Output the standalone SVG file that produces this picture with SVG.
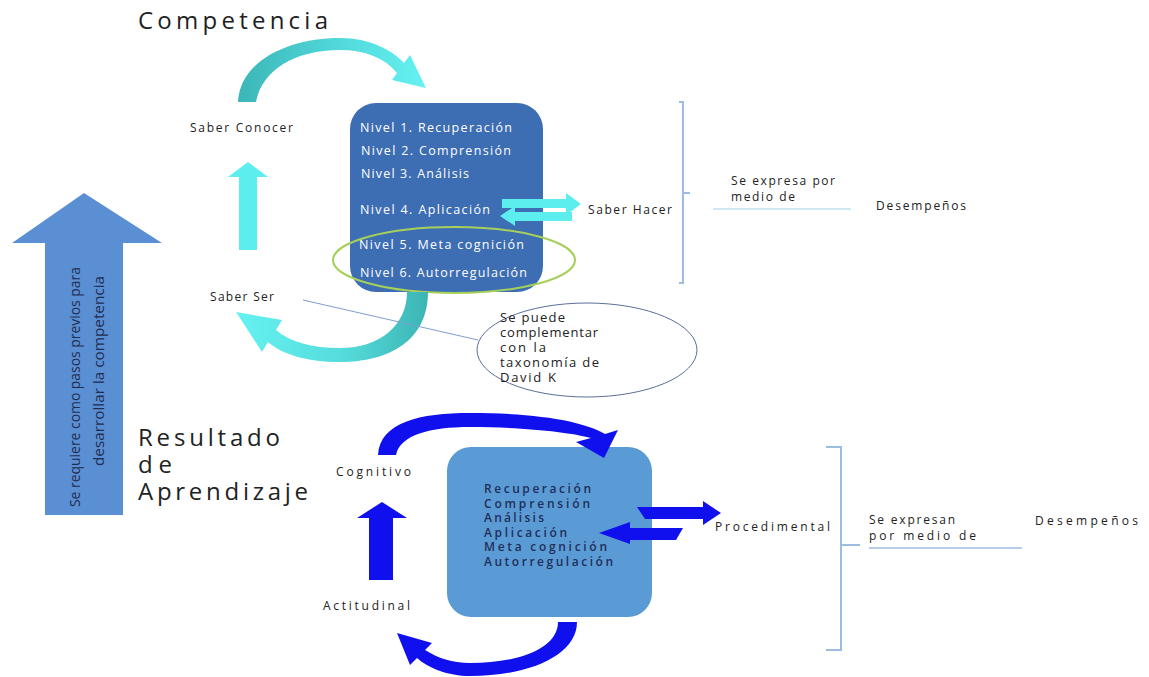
<svg xmlns="http://www.w3.org/2000/svg" width="1149" height="677" viewBox="0 0 1149 677">
<defs>
<linearGradient id="gTop" x1="0" y1="0" x2="1" y2="0">
<stop offset="0" stop-color="#3cb6b8"/><stop offset="0.5" stop-color="#4fd6d8"/><stop offset="1" stop-color="#66f2f2"/>
</linearGradient>
<linearGradient id="gBot" x1="0" y1="0" x2="1" y2="0">
<stop offset="0" stop-color="#66f2f2"/><stop offset="0.55" stop-color="#55dcdc"/><stop offset="1" stop-color="#3cb4b4"/>
</linearGradient>
<style>
text{font-family:"Open Sans","Liberation Sans",sans-serif;}
.w{fill:#ffffff;font-size:12.5px;}
.k{fill:#222222;font-size:12px;}
.n{fill:#1f2f5a;font-size:12px;font-weight:600;}
.e{fill:#222222;font-size:13px;}
.big{fill:#222222;font-size:24px;}
.bk{fill:none;stroke:#9dbde0;stroke-width:2;}
.cy{fill:#5ceeee;}
.bl{fill:#1010ee;}
</style>
</defs>
<rect width="1149" height="677" fill="#ffffff"/>

<g id="titulo-competencia"><text class="big" x="138" y="29" textLength="190" lengthAdjust="spacing">Competencia</text></g>

<g id="flecha-grande">
<path d="M45,515 L45,243 L12,243 L84,193 L162,243 L123,243 L123,515 Z" fill="#5b8fd3"/>
<text transform="translate(80,507) rotate(-90)" font-family="DejaVu Sans Condensed, Liberation Sans, sans-serif" font-size="14" fill="#1f2d50" textLength="240" lengthAdjust="spacingAndGlyphs">Se requiere como pasos previos para</text>
<text transform="translate(104,466) rotate(-90)" font-family="DejaVu Sans Condensed, Liberation Sans, sans-serif" font-size="14" fill="#1f2d50" textLength="190" lengthAdjust="spacingAndGlyphs">desarrollar la competencia</text>
</g>

<g id="caja-niveles">
<rect x="350" y="103" width="193" height="189" rx="26" fill="#3d6db3"/>
<text class="w" x="360" y="132" textLength="152" lengthAdjust="spacing">Nivel 1. Recuperación</text>
<text class="w" x="361" y="155" textLength="150" lengthAdjust="spacing">Nivel 2. Comprensión</text>
<text class="w" x="361" y="178" textLength="108" lengthAdjust="spacing">Nivel 3. Análisis</text>
<text class="w" x="360" y="214" textLength="130" lengthAdjust="spacing">Nivel  4. Aplicación</text>
<text class="w" x="359" y="249" textLength="165" lengthAdjust="spacing">Nivel  5. Meta cognición</text>
<text class="w" x="360" y="277" textLength="167" lengthAdjust="spacing">Nivel  6. Autorregulación</text>
</g>
<g id="elipse-verde"><ellipse cx="454" cy="260" rx="121" ry="33" fill="none" stroke="#a6d05a" stroke-width="2"/></g>

<g id="caja-resultados">
<rect x="447" y="447" width="205" height="170" rx="24" fill="#5b9bd5"/>
<text class="n" x="484" y="493" textLength="107" lengthAdjust="spacing">Recuperación</text>
<text class="n" x="484" y="507.5" textLength="106" lengthAdjust="spacing">Comprensión</text>
<text class="n" x="484" y="522" textLength="60" lengthAdjust="spacing">Análisis</text>
<text class="n" x="484" y="536.5" textLength="83" lengthAdjust="spacing">Aplicación</text>
<text class="n" x="484" y="551" textLength="123" lengthAdjust="spacing">Meta cognición</text>
<text class="n" x="484" y="565.5" textLength="129" lengthAdjust="spacing">Autorregulación</text>
</g>

<g id="connectors">
<!-- top cyan arc -->
<path d="M238,102 C240,60 290,38 340,38 C370,38 392,50 404,63 L410,55 L426,88 L392,80 L397,73 C385,58 365,50 340,50 C295,50 262,70 256,102 Z" fill="url(#gTop)"/>
<!-- cyan up arrow -->
<path d="M239,250 L239,177 L228,177 L248,162 L268,177 L257,177 L257,250 Z" class="cy"/>
<!-- bottom cyan arc -->
<path d="M428,292 C428,340 390,362 340,362 C305,362 282,354 268,342 L262,352 L236,312 L282,320 L276,330 C290,342 312,348 340,348 C380,348 407,325 407,292 Z" fill="url(#gBot)"/>
<!-- cyan double arrows -->
<path d="M502,199 L566,199 L566,193 L581,204 L566,215 L566,208 L502,208 Z" class="cy"/>
<path d="M572,212 L515,212 L515,206 L500,216 L515,226 L515,221 L572,221 Z" class="cy"/>
<!-- line to ellipse -->
<line x1="303" y1="300" x2="478" y2="340" stroke="#7f9fcf" stroke-width="1"/>
<!-- top bracket -->
<path class="bk" d="M679,102 L683,102 L683,283 L679,283 M683,193 L690,193"/>
<line x1="713" y1="209" x2="851" y2="209" stroke="#bfe0ee" stroke-width="1.5"/>
<!-- blue top arc -->
<path d="M378,455 C380,422 420,413 470,413 C540,413 585,422 605,434 L618,430 L604,458 L576,442 L591,438 C570,432 520,427 470,427 C430,427 400,435 396,455 Z" class="bl"/>
<!-- blue up arrow -->
<path d="M369,580 L369,518 L357,518 L382,502 L407,518 L393,518 L393,580 Z" class="bl"/>
<!-- blue bottom arc -->
<path d="M577,622 C577,655 530,676 470,676 C448,676 428,668 417,658 L410,665 L397,633 L432,643 L425,650 C438,658 452,663 470,663 C520,663 558,648 558,622 Z" class="bl"/>
<!-- blue double arrows -->
<path d="M637,507 L703,507 L703,501 L721,513 L703,525 L703,519 L645,519 Z" class="bl"/>
<path d="M683,528 L630,528 L630,522 L599,533 L630,544 L630,540 L676,540 Z" class="bl"/>
<!-- bottom bracket -->
<path class="bk" d="M826,447 L841,447 L841,650 L826,650 M841,545 L860,545"/>
<line x1="869" y1="548" x2="1022" y2="548" stroke="#9dbde0" stroke-width="1.5"/>
</g>

<g id="saber-conocer"><text class="k" x="190" y="132" textLength="103" lengthAdjust="spacing">Saber Conocer</text></g>
<g id="saber-ser"><text class="k" x="210" y="301" textLength="64" lengthAdjust="spacing">Saber Ser</text></g>
<g id="saber-hacer"><text class="k" x="588" y="214" textLength="84" lengthAdjust="spacing">Saber Hacer</text></g>
<g id="se-expresa">
<text class="k" x="731" y="185" textLength="104" lengthAdjust="spacing">Se expresa por</text>
<text class="k" x="731" y="201" textLength="64" lengthAdjust="spacing">medio de</text>
</g>
<g id="desempenos-1"><text class="k" x="876" y="210" textLength="90" lengthAdjust="spacing">Desempeños</text></g>

<g id="elipse-taxonomia">
<ellipse cx="587" cy="350" rx="110" ry="47" fill="#ffffff" stroke="#5a6f99" stroke-width="1"/>
<text class="e" x="500" y="322" textLength="65" lengthAdjust="spacing">Se puede</text>
<text class="e" x="500" y="337" textLength="98" lengthAdjust="spacing">complementar</text>
<text class="e" x="500" y="352" textLength="46" lengthAdjust="spacing">con la</text>
<text class="e" x="500" y="367" textLength="99" lengthAdjust="spacing">taxonomía de</text>
<text class="e" x="500" y="382" textLength="56" lengthAdjust="spacing">David K</text>
</g>

<g id="titulo-resultado">
<text class="big" x="138" y="446" textLength="142" lengthAdjust="spacing">Resultado</text>
<text class="big" x="138" y="473" textLength="34" lengthAdjust="spacing">de</text>
<text class="big" x="138" y="500" textLength="170" lengthAdjust="spacing">Aprendizaje</text>
</g>

<g id="cognitivo"><text class="k" x="336" y="476" textLength="75" lengthAdjust="spacing">Cognitivo</text></g>
<g id="actitudinal"><text class="k" x="323" y="610" textLength="87" lengthAdjust="spacing">Actitudinal</text></g>
<g id="procedimental"><text class="k" x="715" y="531" font-size="12.5" textLength="115" lengthAdjust="spacing">Procedimental</text></g>
<g id="se-expresan">
<text class="k" x="869" y="524" font-size="12.5" textLength="86" lengthAdjust="spacing">Se expresan</text>
<text class="k" x="869" y="540" font-size="12.5" textLength="107" lengthAdjust="spacing">por medio de</text>
</g>
<g id="desempenos-2"><text class="k" x="1035" y="525" font-size="12.5" textLength="103" lengthAdjust="spacing">Desempeños</text></g>
</svg>
